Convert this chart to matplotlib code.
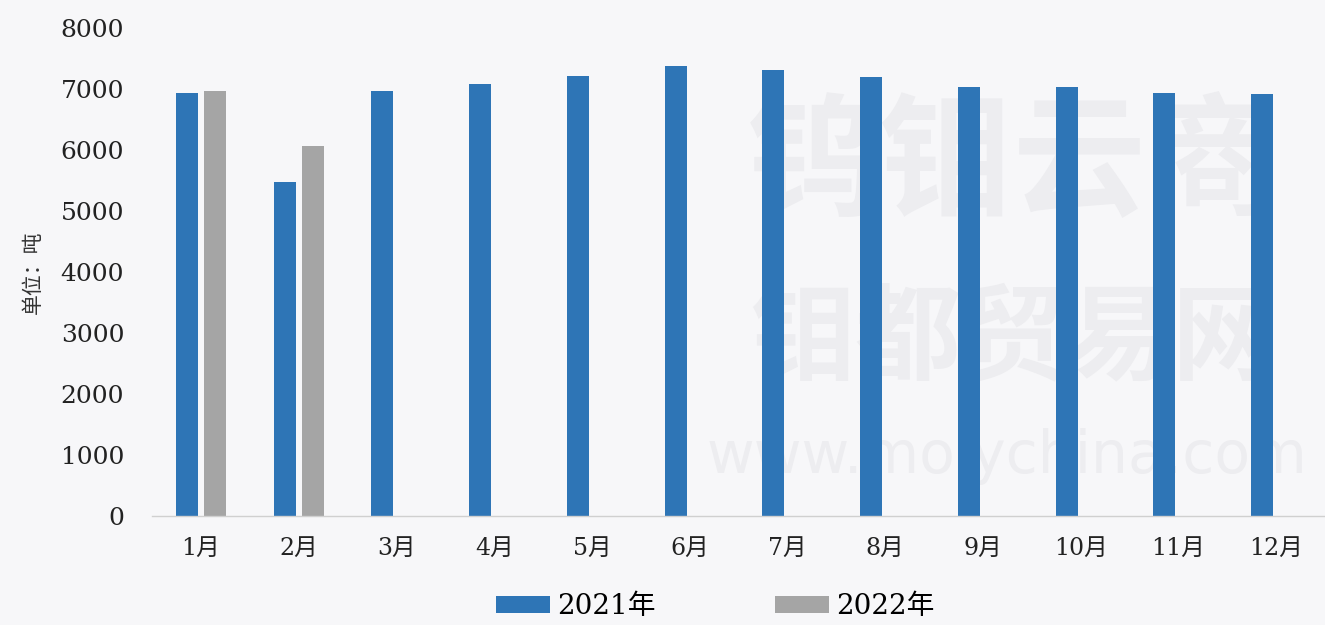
"""钼产量月度对比柱状图（2021年 vs 2022年）。"""

import matplotlib
matplotlib.use("Agg")
import matplotlib.pyplot as plt
import numpy as np

# 数据
months = ["1月", "2月", "3月", "4月", "5月", "6月",
          "7月", "8月", "9月", "10月", "11月", "12月"]
output_2021 = [6930, 5480, 6970, 7090, 7220, 7380,
               7310, 7190, 7030, 7030, 6930, 6910]
output_2022 = [6970, 6060]
series_names = ["2021年", "2022年"]
y_ticks = [0, 1000, 2000, 3000, 4000, 5000, 6000, 7000, 8000]

BLUE = "#2e75b6"
GRAY = "#a5a5a5"
BG = "#f7f7f9"
WM = "#ededf0"
FONT = ["DejaVu Serif", "Noto Sans CJK SC"]

plt.rcParams["font.family"] = FONT

fig = plt.figure(figsize=(13.25, 6.25), dpi=100, facecolor=BG)
ax = fig.add_axes([152 / 1325, 1 - 516 / 625, (1325 - 152) / 1325, (516 - 28) / 625])
ax.set_facecolor(BG)

# watermark (faint, behind the bars)
ax.text(0.765, 0.735, "钨钼云商", fontsize=96, color=WM, fontweight="bold",
        ha="center", va="center", family="Noto Sans CJK SC",
        transform=fig.transFigure, zorder=0.5)
ax.text(0.765, 0.455, "钼都贸易网", fontsize=76, color=WM, fontweight="bold",
        ha="center", va="center", family="Noto Sans CJK SC",
        transform=fig.transFigure, zorder=0.5)
ax.text(0.76, 0.27, "www.molychina.com", fontsize=42, color=WM,
        ha="center", va="center", family="DejaVu Sans",
        transform=fig.transFigure, zorder=0.5)

x = np.arange(len(months))
width = 0.225
offset = 0.143
ax.bar(x - offset, output_2021, width, color=BLUE, label=series_names[0], zorder=2)
x2 = np.arange(len(output_2022))
ax.bar(x2 + offset, output_2022, width, color=GRAY, label=series_names[1], zorder=2)

ax.set_xlim(-0.5, len(months) - 0.5)
ax.set_ylim(0, 8000)
ax.set_yticks(y_ticks)
ax.set_yticklabels([str(v) for v in y_ticks], fontsize=18, color="#222222")
ax.set_xticks(x)
ax.set_xticklabels(months, fontsize=17, color="#222222")
ax.tick_params(axis="both", length=0)
ax.tick_params(axis="y", pad=20)
ax.tick_params(axis="x", pad=15)

for side in ["top", "right", "left"]:
    ax.spines[side].set_visible(False)
ax.spines["bottom"].set_color("#d0d0d0")
ax.spines["bottom"].set_linewidth(1.0)

ax.set_ylabel("单位：吨", fontsize=15, family=["Noto Sans CJK SC"], color="#333333",
              labelpad=12)

fig.legend(loc="center", bbox_to_anchor=(715 / 1325, 1 - 607 / 625), ncol=2,
           frameon=False, fontsize=20, handlelength=1.95, handleheight=0.55,
           handletextpad=0.25, columnspacing=4.3)

fig.savefig("out.png", dpi=100, facecolor=BG)
